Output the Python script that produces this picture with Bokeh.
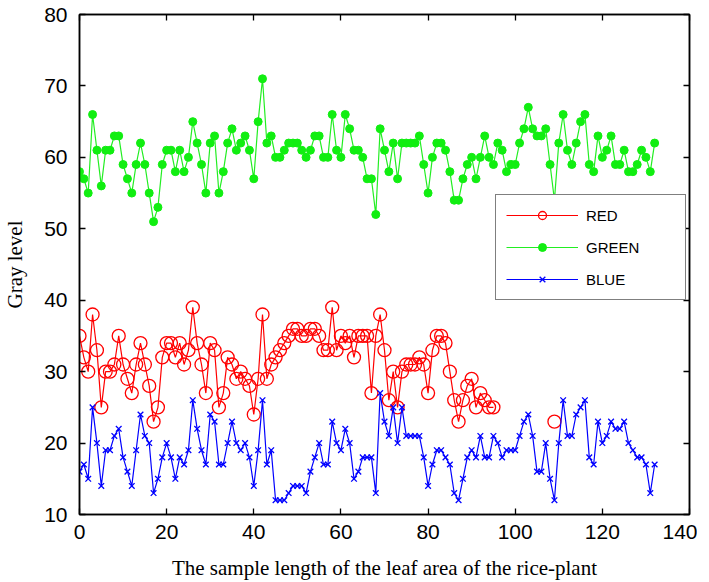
import numpy as np
from bokeh.plotting import figure
from bokeh.models import Range1d, LinearAxis, FixedTicker, CustomJSTickFormatter
from bokeh.embed import file_html
from bokeh.resources import INLINE

nan = float("nan")

sample = list(range(133))

red_values = [35, 32, 30, 38, 33, 25, 30, 30, 31, 35,
              31, 29, 27, 31, 34, 31, 28, 23, 25, 32,
              34, 34, 32, 34, 31, 33, 39, 34, 31, 27,
              34, 33, 25, 27, 32, 31, 29, 30, 29, 28,
              24, 29, 38, 29, 31, 32, 33, 34, 35, 36,
              36, 35, 35, 36, 36, 35, 33, 33, 39, 33,
              35, 34, 35, 32, 35, 35, 35, 27, 35, 38,
              33, 26, 30, 25, 30, 31, 31, 31, 32, 31,
              27, 33, 35, 35, 34, 30, 26, 23, 26, 28,
              29, 25, 27, 26, 25, 25]
red = red_values + [nan] * 13 + [23] + [nan] * 23

green = [58, 57, 55, 66, 61, 56, 61, 61, 63, 63,
         59, 57, 55, 59, 62, 59, 55, 51, 53, 59,
         61, 61, 58, 61, 58, 60, 65, 62, 59, 55,
         62, 63, 55, 58, 62, 64, 61, 62, 63, 61,
         57, 65, 71, 62, 63, 60, 60, 61, 62, 62,
         62, 61, 60, 61, 63, 63, 60, 60, 66, 61,
         60, 66, 64, 61, 61, 60, 57, 57, 52, 64,
         61, 58, 62, 57, 62, 62, 62, 62, 63, 59,
         55, 60, 62, 62, 61, 58, 54, 54, 57, 59,
         60, 57, 60, 63, 60, 59, 62, 61, 58, 59,
         59, 62, 64, 67, 64, 63, 63, 64, 59, 54,
         62, 66, 61, 59, 62, 65, 66, 59, 58, 63,
         60, 61, 63, 59, 59, 61, 58, 58, 59, 61,
         60, 58, 62]

blue = [16, 17, 15, 25, 20, 14, 19, 19, 21, 22,
        18, 16, 14, 19, 24, 21, 20, 13, 15, 18,
        20, 18, 15, 18, 17, 19, 26, 22, 19, 17,
        24, 23, 17, 17, 20, 23, 20, 19, 20, 18,
        14, 19, 26, 17, 19, 12, 12, 12, 13, 14,
        14, 14, 13, 16, 18, 20, 17, 17, 23, 20,
        19, 22, 20, 15, 16, 18, 18, 18, 13, 27,
        23, 21, 25, 20, 25, 21, 21, 21, 21, 18,
        14, 17, 19, 19, 18, 17, 13, 12, 15, 18,
        19, 18, 21, 18, 18, 21, 20, 18, 19, 19,
        19, 21, 23, 24, 21, 16, 16, 20, 15, 12,
        20, 26, 21, 21, 24, 25, 26, 18, 17, 23,
        20, 21, 23, 22, 22, 23, 20, 19, 18, 18,
        17, 13, 17]

x_ticks = [0, 20, 40, 60, 80, 100, 120, 140]
y_ticks = [10, 20, 30, 40, 50, 60, 70, 80]
series_names = ["RED", "GREEN", "BLUE"]
x_label = "The sample length of the leaf area of the rice-plant"
y_label = "Gray level"

x = np.array(sample, dtype=float)

p = figure(frame_width=610, frame_height=500,
           x_range=Range1d(0, 140), y_range=Range1d(10, 80),
           output_backend="svg", toolbar_location=None,
           min_border_left=72, min_border_right=8,
           min_border_top=14, min_border_bottom=57,
           background_fill_color="white", border_fill_color="white")

p.xgrid.visible = False
p.ygrid.visible = False
p.outline_line_color = "black"
p.outline_line_width = 1.5

def style_axis(ax, ticks, labels=True):
    ax.ticker = FixedTicker(ticks=ticks)
    ax.axis_line_color = "black"
    ax.axis_line_width = 1.5
    ax.major_tick_in = 6
    ax.major_tick_out = 0
    ax.major_tick_line_color = "black"
    ax.major_tick_line_width = 1.3
    ax.minor_tick_in = 0
    ax.minor_tick_out = 0
    ax.minor_tick_line_color = None
    if labels:
        ax.major_label_text_font = "Liberation Sans"
        ax.major_label_text_font_size = "21px"
        ax.major_label_text_color = "black"
    else:
        ax.formatter = CustomJSTickFormatter(code="return ''")
        ax.major_label_text_font_size = "0px"
        ax.major_label_standoff = 0

style_axis(p.xaxis[0], x_ticks)
style_axis(p.yaxis[0], y_ticks)
p.xaxis[0].major_label_standoff = 10
p.yaxis[0].major_label_standoff = 12

p.xaxis[0].axis_label = x_label
p.yaxis[0].axis_label = y_label
for ax in (p.xaxis[0], p.yaxis[0]):
    ax.axis_label_text_font = "Liberation Serif"
    ax.axis_label_text_font_size = "21px"
    ax.axis_label_text_font_style = "normal"
    ax.axis_label_text_color = "black"
p.xaxis[0].axis_label_standoff = 14
p.yaxis[0].axis_label_standoff = 14

top_axis = LinearAxis()
style_axis(top_axis, x_ticks, labels=False)
p.add_layout(top_axis, "above")
right_axis = LinearAxis()
style_axis(right_axis, y_ticks, labels=False)
p.add_layout(right_axis, "right")

# RED
p.line(x, np.array(red, dtype=float), line_color="#ff0000", line_width=1.2,
       legend_label=series_names[0])
p.scatter(x, np.array(red, dtype=float), marker="circle", size=13,
          fill_color=None, line_color="#ff0000", line_width=1.3,
          legend_label=series_names[0])
# GREEN
p.line(x, np.array(green, dtype=float), line_color="#22ee22", line_width=1.2,
       legend_label=series_names[1])
p.scatter(x, np.array(green, dtype=float), marker="circle", size=8,
          fill_color="#11ee11", line_color="#11ee11",
          legend_label=series_names[1])
# BLUE
p.line(x, np.array(blue, dtype=float), line_color="#0000ff", line_width=1.2,
       legend_label=series_names[2])
p.scatter(x, np.array(blue, dtype=float), marker="x", size=8,
          line_color="#0000ff", line_width=1.3,
          legend_label=series_names[2])

lg = p.legend[0]
lg.location = (416, 214)
lg.border_line_color = "black"
lg.border_line_width = 1.5
lg.background_fill_color = "white"
lg.background_fill_alpha = 1.0
lg.label_text_font = "Liberation Sans"
lg.label_text_font_size = "15px"
lg.label_text_color = "black"
lg.glyph_width = 72
lg.glyph_height = 20
lg.label_height = 20
lg.label_width = 89
lg.label_standoff = 8
lg.spacing = 12
lg.padding = 10
lg.margin = 0

open("out.html", "w").write(file_html(p, INLINE))
